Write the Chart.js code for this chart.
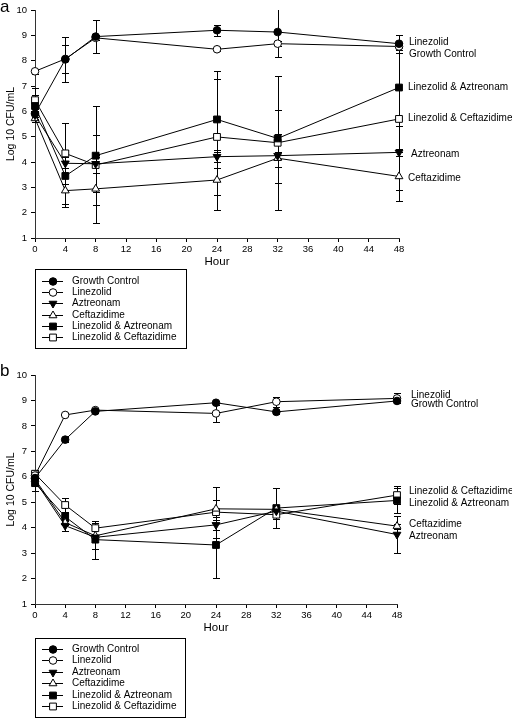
<!DOCTYPE html>
<html>
<head>
<meta charset="utf-8">
<script src="https://cdn.jsdelivr.net/npm/chart.js@4.4.1/dist/chart.umd.min.js"></script>
<style>
  html, body { margin: 0; padding: 0; background: #fff; }
  canvas { display: block; }
</style>
</head>
<body>
<canvas id="chartA" width="512" height="359"></canvas>
<canvas id="chartB" width="512" height="359"></canvas>
<script>
// sampling times and axis ticks
const hours = [0, 4, 8, 24, 32, 48];
const hourTicks = [0, 4, 8, 12, 16, 20, 24, 28, 32, 36, 40, 44, 48];
const logTicks = [1, 2, 3, 4, 5, 6, 7, 8, 9, 10];
const seriesNames = ["Growth Control", "Linezolid", "Aztreonam", "Ceftazidime",
                     "Linezolid & Aztreonam", "Linezolid & Ceftazidime"];

// panel a  (mean log10 CFU/mL and error)
const growthA    = [5.90, 8.05, 8.95, 9.20, 9.13, 8.67];
const growthErrA = [0.20, 0.90, 0.65, 0.22, 1.00, 0.35];
const linezA     = [7.58, 8.07, 8.90, 8.45, 8.67, 8.56];
const linezErrA  = [0.10, 0.55, 0.10, 0.08, 0.10, 0.12];
const aztA       = [5.85, 3.95, 3.93, 4.21, 4.25, 4.38];
const aztErrA    = [0.15, 1.60, 1.12, 0.20, 0.15, 0.15];
const cefA       = [5.72, 2.87, 2.94, 3.29, 4.15, 3.43];
const cefErrA    = [0.15, 0.65, 1.33, 1.20, 0.96, 0.95];
const linAztA    = [6.21, 3.45, 4.25, 5.68, 4.93, 6.94];
const linAztErrA = [0.45, 0.30, 1.95, 1.90, 1.13, 1.50];
const linCefA    = [6.44, 4.34, 3.88, 4.99, 4.76, 5.70];
const linCefErrA = [0.50, 0.15, 0.30, 2.28, 2.64, 2.80];

// panel b
const growthB    = [5.95, 7.46, 8.57, 8.91, 8.55, 8.98];
const growthErrB = [0.10, 0.10, 0.05, 0.08, 0.08, 0.08];
const linezB     = [6.05, 8.43, 8.62, 8.49, 8.95, 9.08];
const linezErrB  = [0.15, 0.05, 0.05, 0.33, 0.20, 0.20];
const aztB       = [5.85, 4.08, 3.62, 4.11, 4.65, 3.73];
const aztErrB    = [0.20, 0.20, 0.45, 0.20, 0.10, 0.73];
const cefB       = [5.90, 4.20, 3.68, 4.74, 4.72, 4.06];
const cefErrB    = [0.15, 0.10, 0.50, 0.33, 0.10, 0.10];
const linAztB    = [5.75, 4.43, 3.53, 3.32, 4.77, 5.07];
const linAztErrB = [0.30, 0.15, 0.75, 1.30, 0.78, 0.50];
const linCefB    = [6.12, 4.89, 3.98, 4.61, 4.51, 5.28];
const linCefErrB = [0.15, 0.28, 0.30, 1.00, 0.15, 0.34];

// end-of-line labels (text, value where it sits)
const sideTextA = ["Linezolid", "Growth Control", "Linezolid & Aztreonam",
                   "Linezolid & Ceftazidime", "Aztreonam", "Ceftazidime"];
const sideValA  = [8.74, 8.26, 6.96, 5.74, 4.32, 3.37];
const sideTextB = ["Linezolid", "Growth Control", "Linezolid & Ceftazidime",
                   "Linezolid & Aztreonam", "Ceftazidime", "Aztreonam"];
const sideValB  = [9.21, 8.86, 5.44, 4.97, 4.14, 3.67];

const FONT = "'Liberation Sans', Arial, Helvetica, sans-serif";
Chart.defaults.font.family = FONT;
Chart.defaults.color = "#000";

// marker look for each series
const markers = [
  { pointStyle: "circle",   radius: 3.8, fill: "#000", rotation: 0 },
  { pointStyle: "circle",   radius: 3.8, fill: "#fff", rotation: 0 },
  { pointStyle: "triangle", radius: 4.5, fill: "#000", rotation: 180 },
  { pointStyle: "triangle", radius: 4.5, fill: "#fff", rotation: 0 },
  { pointStyle: "rect",     radius: 4.8, fill: "#000", rotation: 0 },
  { pointStyle: "rect",     radius: 4.8, fill: "#fff", rotation: 0 }
];

function makeDatasets(values, errors) {
  return values.map((vals, k) => ({
    label: seriesNames[k],
    data: hours.map((h, i) => ({ x: h, y: vals[i] })),
    errors: errors[k],
    borderColor: "#000",
    borderWidth: 1,
    backgroundColor: markers[k].fill,
    pointStyle: markers[k].pointStyle,
    pointRadius: markers[k].radius,
    pointHoverRadius: markers[k].radius,
    pointRotation: markers[k].rotation,
    pointBorderColor: "#000",
    pointBackgroundColor: markers[k].fill,
    pointBorderWidth: 1,
    tension: 0,
    clip: false
  }));
}

// vertical error bars with caps
const errorBars = {
  id: "errorBars",
  beforeDatasetsDraw(chart) {
    const { ctx, chartArea } = chart;
    const x = chart.scales.x, y = chart.scales.y;
    ctx.save();
    ctx.beginPath();
    ctx.rect(0, chartArea.top, chart.width, chartArea.bottom - chartArea.top);
    ctx.clip();
    ctx.strokeStyle = "#000";
    ctx.lineWidth = 1;
    chart.data.datasets.forEach(ds => {
      ds.data.forEach((p, i) => {
        const e = ds.errors[i];
        const px = Math.round(x.getPixelForValue(p.x)) + 0.5;
        const top = Math.round(y.getPixelForValue(p.y + e)) + 0.5;
        const bot = Math.round(y.getPixelForValue(p.y - e)) + 0.5;
        ctx.beginPath();
        ctx.moveTo(px, top); ctx.lineTo(px, bot);
        ctx.moveTo(px - 3.5, top); ctx.lineTo(px + 3.5, top);
        ctx.moveTo(px - 3.5, bot); ctx.lineTo(px + 3.5, bot);
        ctx.stroke();
      });
    });
    ctx.restore();
  }
};

// labels at the right end of the lines
const sideLabels = {
  id: "sideLabels",
  afterDraw(chart, args, opts) {
    const ctx = chart.ctx, y = chart.scales.y;
    ctx.save();
    ctx.font = "10px " + FONT;
    ctx.fillStyle = "#000";
    ctx.textBaseline = "middle";
    ctx.textAlign = "left";
    opts.texts.forEach((t, i) => {
      ctx.fillText(t, opts.x[i], y.getPixelForValue(opts.values[i]));
    });
    ctx.restore();
  }
};

// boxed legend under the plot + panel letter
const boxLegend = {
  id: "boxLegend",
  afterDraw(chart, args, opts) {
    const ctx = chart.ctx;
    ctx.save();
    ctx.strokeStyle = "#000";
    ctx.lineWidth = 1;
    ctx.strokeRect(opts.left + 0.5, opts.top + 0.5, opts.width, opts.height);
    ctx.font = "10px " + FONT;
    ctx.textBaseline = "middle";
    chart.data.datasets.forEach((ds, i) => {
      const yy = Math.round(opts.top + opts.first + i * opts.step);
      ctx.strokeStyle = "#000";
      ctx.beginPath();
      ctx.moveTo(opts.left + 7, yy + 0.5);
      ctx.lineTo(opts.left + 28, yy + 0.5);
      ctx.stroke();
      ctx.fillStyle = ds.pointBackgroundColor;
      Chart.helpers.drawPoint(ctx, {
        pointStyle: ds.pointStyle, radius: ds.pointRadius,
        rotation: ds.pointRotation, borderWidth: 1
      }, opts.left + 18, yy + 0.5);
      ctx.fillStyle = "#000";
      ctx.fillText(ds.label, opts.left + 37, yy + 0.5);
    });
    ctx.font = "17px " + FONT;
    ctx.fillStyle = "#000";
    ctx.textBaseline = "alphabetic";
    ctx.fillText(opts.letter, 0, opts.letterY);
    ctx.restore();
  }
};

function makeChart(id, datasets, pad, side, legend) {
  return new Chart(document.getElementById(id), {
    type: "line",
    data: { datasets: datasets },
    options: {
      responsive: false,
      animation: false,
      devicePixelRatio: 1,
      layout: { padding: pad },
      plugins: {
        legend: { display: false },
        tooltip: { enabled: false },
        sideLabels: side,
        boxLegend: legend
      },
      scales: {
        x: {
          type: "linear", min: 0, max: 48,
          afterBuildTicks: s => { s.ticks = hourTicks.map(v => ({ value: v })); },
          afterFit: s => { s.height = 35; },
          grid: { display: true, drawOnChartArea: false, drawTicks: true, tickLength: 4, color: "#000" },
          border: { display: true, color: "#333", width: 1 },
          ticks: { font: { size: 9.5 }, padding: 2, maxRotation: 0, autoSkip: false },
          title: { display: true, text: "Hour", font: { size: 11.5 }, padding: { top: 2, bottom: 4 } }
        },
        y: {
          min: 1, max: 10,
          afterBuildTicks: s => { s.ticks = logTicks.map(v => ({ value: v })); },
          afterFit: s => { s.width = 35; },
          grid: { display: true, drawOnChartArea: false, drawTicks: true, tickLength: 4, color: "#000" },
          border: { display: true, color: "#333", width: 1 },
          ticks: { font: { size: 9.5 }, padding: 4 },
          title: { display: true, text: "Log 10 CFU/mL", font: { size: 10.5 }, padding: { top: 5, bottom: 2 } }
        }
      }
    },
    plugins: [errorBars, sideLabels, boxLegend]
  });
}

makeChart("chartA",
  makeDatasets([growthA, linezA, aztA, cefA, linAztA, linCefA],
               [growthErrA, linezErrA, aztErrA, cefErrA, linAztErrA, linCefErrA]),
  { left: 0, right: 113, top: 10, bottom: 359 - 238 - 35 },
  { texts: sideTextA, values: sideValA, x: [409, 409, 408, 408, 411, 408] },
  { left: 35, top: 269, width: 151, height: 79, first: 12, step: 11.2, letter: "a", letterY: 12 });

makeChart("chartB",
  makeDatasets([growthB, linezB, aztB, cefB, linAztB, linCefB],
               [growthErrB, linezErrB, aztErrB, cefErrB, linAztErrB, linCefErrB]),
  { left: 0, right: 115, top: 16, bottom: 359 - 245 - 35 },
  { texts: sideTextB, values: sideValB, x: [411, 411, 409, 409, 409, 409] },
  { left: 35, top: 279, width: 150, height: 79, first: 11, step: 11.4, letter: "b", letterY: 17 });
</script>
</body>
</html>
